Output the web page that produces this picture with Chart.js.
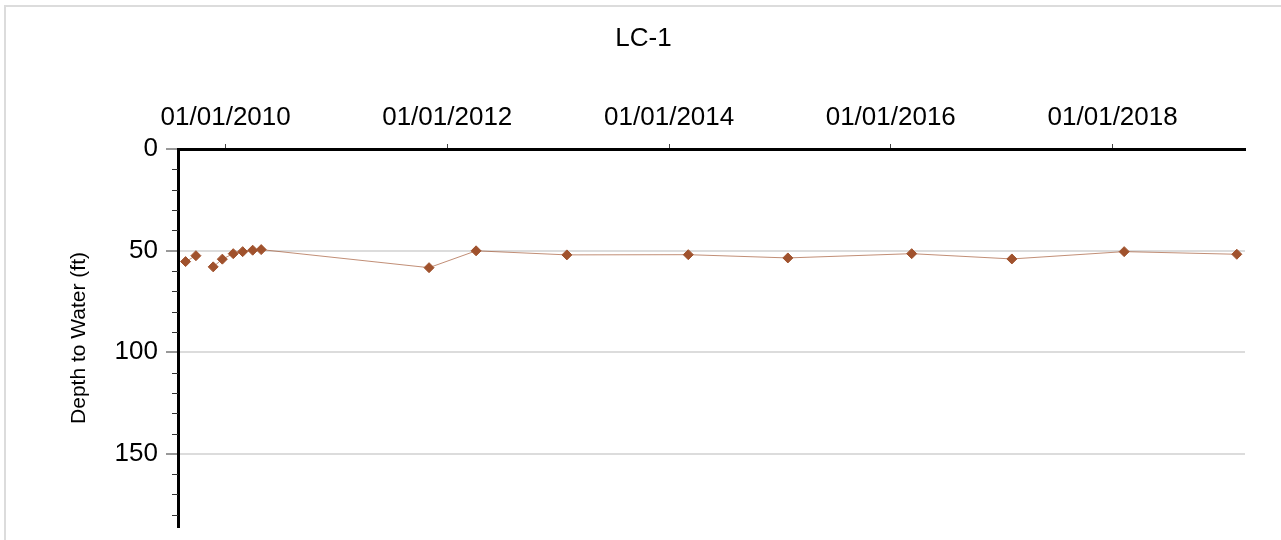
<!DOCTYPE html>
<html>
<head>
<meta charset="utf-8">
<title>LC-1</title>
<script src="https://cdn.jsdelivr.net/npm/chart.js@4.4.1/dist/chart.umd.min.js"></script>
<style>
  html, body { margin: 0; padding: 0; background: #fff; overflow: hidden; }
  #wrap  { position: relative; width: 1281px; height: 540px; }
  #frame { position: absolute; left: 4px; top: 5px; width: 1400px; height: 700px;
           border: 2px solid #dcdcdc; box-sizing: border-box; pointer-events: none; }
  canvas { position: absolute; left: 0; top: 0; }
</style>
</head>
<body>
<div id="wrap">
  <div id="frame"></div>
  <canvas id="chart" width="1281" height="540"></canvas>
</div>
<script>
/* ═══════════════════════════════════════════════
═══════════════════════════════════════════════ */
const sampleDates = [
  '2009-08-22', '2009-09-25', '2009-11-21', '2009-12-21', '2010-01-26',
  '2010-02-26', '2010-03-31', '2010-04-28', '2011-11-02', '2012-04-05',
  '2013-01-29', '2014-03-05', '2015-01-27', '2016-03-10', '2017-02-03',
  '2018-02-08', '2019-02-14'
];
const depthFt = [
  55.4, 52.5, 58.0, 54.2, 51.5,
  50.5, 49.8, 49.5, 58.4, 50.1,
  52.1, 52.0, 53.6, 51.5, 54.1,
  50.5, 51.8
];

const xTickDates  = ['2010-01-01', '2012-01-01', '2014-01-01', '2016-01-01', '2018-01-01'];
const yMajorTicks = [0, 50, 100, 150];
const yMinorTicks = [10, 20, 30, 40, 60, 70, 80, 90, 110, 120, 130, 140, 160, 170, 180];

const X_MIN = '2009-07-28';
const X_MAX = '2019-03-13';
const Y_MAX = 186;
const GAP_AFTER = 1;   /* no line drawn between 2nd and 3rd sample */

/* ── STYLE ── */
const FONT = '"Liberation Sans", Arial, sans-serif';
const MARK = '#a0522d';

function fmtDate(ms) {
  const d = new Date(ms);
  const p = n => String(n).padStart(2, '0');
  return p(d.getUTCMonth() + 1) + '/' + p(d.getUTCDate()) + '/' + d.getUTCFullYear();
}

/* ═══════════════════════════════════════════════
   MINOR Y TICKS — short marks every 10 ft
═══════════════════════════════════════════════ */
const minorTicks = {
  id: 'minorTicks',
  afterDraw(chart) {
    const y    = chart.scales.y;
    const ctx  = chart.ctx;
    const left = chart.chartArea.left;
    ctx.save();
    ctx.strokeStyle = '#333';
    ctx.lineWidth   = 1;
    yMinorTicks.forEach(v => {
      const py = Math.round(y.getPixelForValue(v)) + 0.5;
      ctx.beginPath();
      ctx.moveTo(left - 6, py);
      ctx.lineTo(left, py);
      ctx.stroke();
    });
    ctx.restore();
  }
};

/* ═══════════════════════════════════════════════
   CHART
═══════════════════════════════════════════════ */
new Chart(document.getElementById('chart').getContext('2d'), {
  type: 'line',
  data: {
    datasets: [{
      data: sampleDates.map((d, i) => ({ x: Date.parse(d), y: depthFt[i] })),
      borderColor:          'rgba(160,82,45,0.65)',
      borderWidth:          1,
      pointStyle:           'rectRot',
      pointRadius:          5,
      pointBackgroundColor: MARK,
      pointBorderColor:     MARK,
      pointBorderWidth:     1,
      tension:              0,
      segment: {
        borderColor: c => c.p0DataIndex === GAP_AFTER ? 'transparent' : undefined
      }
    }]
  },
  options: {
    responsive:       false,
    animation:        false,
    devicePixelRatio: 1,
    /* left pad keeps the title centred on the page like the original */
    layout: { padding: { left: 42, right: 36, top: 0, bottom: 13 } },
    plugins: {
      legend:  { display: false },
      tooltip: { enabled: false },
      title: {
        display: true,
        text:    'LC-1',
        color:   '#000',
        font:    { family: FONT, size: 26, weight: 'normal' },
        padding: { top: 23, bottom: 0 }
      }
    },
    scales: {
      x: {
        type:     'linear',
        position: 'top',
        min:      Date.parse(X_MIN),
        max:      Date.parse(X_MAX),
        afterBuildTicks: s => { s.ticks = xTickDates.map(d => ({ value: Date.parse(d) })); },
        afterFit: s => { s.height = 94.8; s.paddingLeft = 0; s.paddingRight = 0; },
        grid:   { drawOnChartArea: false, drawTicks: true, tickLength: 5, tickColor: '#444', tickWidth: 1 },
        border: { display: true, color: '#000', width: 3 },
        ticks: {
          font:        { family: FONT, size: 26 },
          color:       '#000',
          padding:     10.5,
          maxRotation: 0,
          autoSkip:    false,
          callback:    v => fmtDate(v)
        }
      },
      y: {
        reverse: true,
        min:     0,
        max:     Y_MAX,
        afterBuildTicks: s => { s.ticks = yMajorTicks.map(v => ({ value: v })); },
        afterFit: s => { s.width = 136; s.paddingTop = 0; s.paddingBottom = 0; },
        grid: {
          color:      c => (c.tick && c.tick.value === 0) ? 'transparent' : '#dcdcdc',
          lineWidth:  2,
          tickLength: 12,
          tickColor:  '#333',
          tickWidth:  1
        },
        border: { display: true, color: '#000', width: 3 },
        ticks:  { font: { family: FONT, size: 26 }, color: '#000', padding: 8 },
        title: {
          display: true,
          text:    'Depth to Water (ft)',
          color:   '#000',
          font:    { family: FONT, size: 21 },
          padding: { top: 25, bottom: 0 }
        }
      }
    }
  },
  plugins: [minorTicks]
});
</script>
</body>
</html>
